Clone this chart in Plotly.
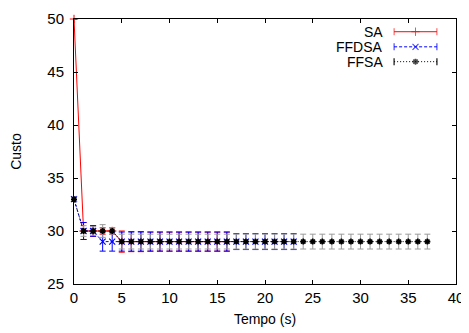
import plotly.graph_objects as go

# ---- data ----
sa_t = list(range(0, 17))
sa_y = [50, 30, 30, 30, 30] + [29] * 12
sa_err = [0, 0.8, 0.5, 0.3, 0.3, 1.0, 0.95, 0.95, 0.9, 0.9, 0.9, 0.9, 0.9, 0.9, 0.9, 0.9, 0.9]

ffdsa_t = list(range(0, 24))
ffdsa_y = [33, 30, 30, 29, 29] + [29] * 19
ffdsa_err = [0.2, 0.8, 0.5, 0.9, 0.9] + [0.9] * 12 + [0.75] * 7

ffsa_t = list(range(0, 38))
ffsa_y = [33, 30, 30, 30, 30] + [29] * 33
ffsa_err = [0.2, 0.5, 0.4, 0.6, 0.3] + [0.7] * 33

series_names = ["SA", "FFDSA", "FFSA"]
x_ticks = [0, 5, 10, 15, 20, 25, 30, 35, 40]
y_ticks = [25, 30, 35, 40, 45, 50]

FONT = "Liberation Sans, Arial, sans-serif"
styles = {
    "SA": dict(color="#ff0000", dash="solid", symbol="cross-thin", size=6, mlw=1, ecolor="#ff0000"),
    "FFDSA": dict(color="#0000ff", dash="3px,2px", symbol="x-thin", size=6, mlw=1.2, ecolor="#0000ff"),
    "FFSA": dict(color="#000000", dash="1px,2px", symbol="asterisk", size=5, mlw=1.6, ecolor="#9a9a9a"),
}

fig = go.Figure()
data = {"SA": (sa_t, sa_y, sa_err), "FFDSA": (ffdsa_t, ffdsa_y, ffdsa_err), "FFSA": (ffsa_t, ffsa_y, ffsa_err)}
for name in series_names:
    t, y, e = data[name]
    s = styles[name]
    fig.add_trace(go.Scatter(
        x=t, y=y, mode="lines+markers", name=name, showlegend=False, cliponaxis=False,
        line=dict(color=s["color"], width=1, dash=s["dash"]),
        marker=dict(symbol=s["symbol"], size=s["size"], color=s["color"],
                    line=dict(color=s["color"], width=s["mlw"])),
        error_y=dict(type="data", array=e, visible=True, color=s["ecolor"], thickness=1, width=3),
    ))

# legend (gnuplot style: text then sample) drawn on an overlay axis
rows_y = [0.952, 0.895, 0.839]
for name, ry in zip(series_names, rows_y):
    s = styles[name]
    fig.add_trace(go.Scatter(
        x=[0.838, 0.894, 0.950], y=[ry, ry, ry], xaxis="x2", yaxis="y2",
        mode="lines+markers", showlegend=False, hoverinfo="skip", cliponaxis=False,
        line=dict(color=s["color"], width=1, dash=s["dash"]),
        marker=dict(symbol=["line-ns", s["symbol"], "line-ns"], size=[5, s["size"], 5],
                    color=s["color"], line=dict(color=s["color"], width=s["mlw"])),
    ))
    fig.add_annotation(x=0.8115, y=ry, xref="x2", yref="y2", text=name, showarrow=False,
                       xanchor="right", yanchor="middle", borderpad=0,
                       font=dict(family=FONT, size=14, color="black"))

axis_common = dict(showline=True, linecolor="black", linewidth=1, mirror="ticks",
                   ticks="inside", ticklen=4, tickcolor="black", tickwidth=1,
                   showgrid=False, zeroline=False, automargin=False,
                   tickfont=dict(family=FONT, size=15, color="black"))

# the page body has an 8px margin, so the figure is shrunk by that amount
fig.update_layout(
    width=461, height=325,
    margin=dict(l=66, r=13, t=11, b=49),
    paper_bgcolor="white", plot_bgcolor="white",
    font=dict(family=FONT, size=15, color="black"),
    xaxis=dict(range=[0, 40], tickvals=x_ticks, ticktext=[str(v) for v in x_ticks],
               title=dict(text="Tempo (s)", standoff=9, font=dict(family=FONT, size=14)),
               ticklabelstandoff=0, **axis_common),
    yaxis=dict(range=[25, 50], tickvals=y_ticks, ticktext=[str(v) for v in y_ticks],
               title=dict(text="Custo", standoff=27, font=dict(family=FONT, size=14)),
               ticklabelstandoff=6, **axis_common),
    xaxis2=dict(range=[0, 1], overlaying="x", visible=False, fixedrange=True),
    yaxis2=dict(range=[0, 1], overlaying="y", visible=False, fixedrange=True),
    showlegend=False,
)

fig.write_html("out.html")
